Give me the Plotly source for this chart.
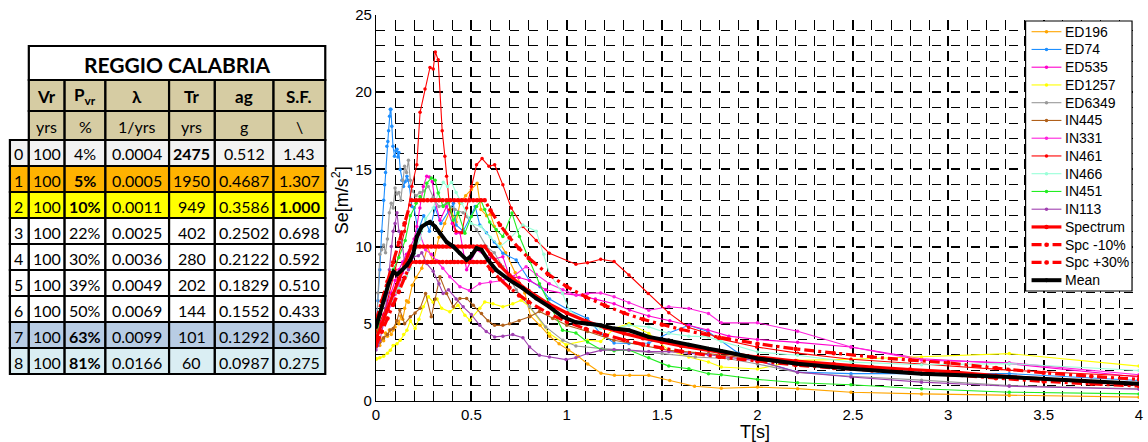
import plotly.graph_objects as go

# ---------------- data: table ----------------
tbl_title = "REGGIO CALABRIA"
tbl_head = ["Vr", "P<sub>vr</sub>", "λ", "Tr", "ag", "S.F."]
tbl_units = ["yrs", "%", "1/yrs", "yrs", "g", "\\"]
tbl_idx = ["0", "1", "2", "3", "4", "5", "6", "7", "8"]
tbl_vr = ["100", "100", "100", "100", "100", "100", "100", "100", "100"]
tbl_pvr = ["4%", "5%", "10%", "22%", "30%", "39%", "50%", "63%", "81%"]
tbl_lam = ["0.0004", "0.0005", "0.0011", "0.0025", "0.0036", "0.0049", "0.0069", "0.0099", "0.0166"]
tbl_tr = ["2475", "1950", "949", "402", "280", "202", "144", "101", "60"]
tbl_ag = ["0.512", "0.4687", "0.3586", "0.2502", "0.2122", "0.1829", "0.1552", "0.1292", "0.0987"]
tbl_sf = ["1.43", "1.307", "1.000", "0.698", "0.592", "0.510", "0.433", "0.360", "0.275"]
tbl_bold = [(0, 3), (1, 1), (2, 1), (2, 5), (7, 1), (8, 1)]

# ---------------- data: spectra ----------------
T_ED196 = [0, 0.01, 0.02, 0.03, 0.04, 0.05, 0.06, 0.07, 0.08, 0.09, 0.10, 0.11, 0.12, 0.13, 0.14, 0.15, 0.16, 0.17, 0.19, 0.21, 0.24, 0.27, 0.30, 0.33, 0.36, 0.39, 0.42, 0.44, 0.47, 0.50, 0.53, 0.55, 0.58, 0.60, 0.62, 0.65, 0.68, 0.73, 0.78, 0.81, 0.86, 0.91, 0.96, 1.01, 1.06, 1.11, 1.18, 1.25, 1.33, 1.43, 1.54, 1.67, 1.81, 2.0, 2.21, 2.49, 2.86, 3.32, 4.0]
S_ED196 = [3.5, 3.9, 3.6, 4.0, 3.9, 4.4, 4.2, 4.6, 4.3, 4.6, 4.8, 5.2, 5.0, 5.5, 5.3, 6.0, 6.5, 6.4, 7.5, 8.0, 8.6, 10.0, 9.0, 10.6, 11.5, 12.4, 11.6, 12.8, 13.3, 13.7, 14.1, 12.4, 12.0, 12.1, 11.3, 10.2, 9.6, 8.3, 7.0, 5.5, 4.9, 4.2, 3.7, 3.3, 2.9, 2.4, 1.8, 1.66, 1.66, 1.66, 1.33, 0.96, 0.83, 0.9, 0.8, 0.57, 0.46, 0.36, 0.25]

T_ED74 = [0, 0.01, 0.02, 0.03, 0.04, 0.045, 0.05, 0.057, 0.062, 0.066, 0.071, 0.075, 0.078, 0.083, 0.089, 0.097, 0.104, 0.11, 0.115, 0.12, 0.127, 0.136, 0.144, 0.153, 0.162, 0.168, 0.175, 0.188, 0.2, 0.22, 0.25, 0.28, 0.31, 0.34, 0.38, 0.406, 0.42, 0.457, 0.49, 0.52, 0.544, 0.579, 0.62, 0.665, 0.735, 0.805, 0.86, 0.91, 1.013, 1.109, 1.178, 1.248, 1.326, 1.43, 1.535, 1.64, 1.74, 1.9, 2.0, 2.21, 2.49, 2.86, 3.32, 4.0]
S_ED74 = [4.7, 6.5, 8.5, 11.0, 13.0, 14.0, 14.8, 16.5, 16.8, 17.5, 18.45, 18.9, 18.9, 17.8, 16.5, 15.85, 16.2, 16.3, 15.8, 16.1, 15.0, 14.3, 13.9, 14.2, 14.55, 14.3, 13.9, 12.6, 12.5, 11.0, 12.0, 11.0, 12.5, 11.5, 12.3, 12.8, 11.4, 11.0, 11.8, 12.6, 11.4, 10.9, 10.3, 9.57, 9.14, 7.8, 7.4, 6.6, 5.88, 5.34, 4.37, 3.76, 3.72, 3.76, 4.4, 4.9, 4.5, 3.1, 2.63, 1.87, 1.77, 1.77, 1.77, 1.33]

T_ED535 = [0, 0.02, 0.04, 0.06, 0.08, 0.1, 0.12, 0.14, 0.16, 0.18, 0.2, 0.214, 0.23, 0.248, 0.266, 0.28, 0.295, 0.309, 0.335, 0.37, 0.4, 0.42, 0.44, 0.475, 0.527, 0.579, 0.62, 0.665, 0.7, 0.75, 0.805, 0.89, 0.98, 1.05, 1.15, 1.248, 1.33, 1.43, 1.54, 1.64, 1.74, 1.85, 2.0, 2.21, 2.49, 2.86, 3.32, 4.0]
S_ED535 = [4.2, 5.0, 5.6, 6.3, 7.0, 7.8, 8.5, 9.0, 9.5, 10.0, 10.5, 11.3, 12.5, 13.9, 14.55, 14.5, 14.2, 13.0, 11.7, 12.6, 11.5, 10.87, 10.9, 8.5, 9.8, 9.35, 9.2, 9.35, 8.05, 8.0, 7.8, 7.2, 6.97, 6.86, 6.6, 6.3, 5.9, 5.5, 5.2, 4.9, 4.6, 4.2, 3.98, 3.8, 3.5, 2.74, 2.42, 1.55]

T_ED1257 = [0, 0.005, 0.02, 0.04, 0.06, 0.075, 0.09, 0.11, 0.127, 0.145, 0.162, 0.18, 0.205, 0.225, 0.248, 0.275, 0.3, 0.32, 0.344, 0.387, 0.43, 0.466, 0.492, 0.544, 0.57, 0.613, 0.665, 0.717, 0.761, 0.805, 0.909, 0.996, 1.109, 1.178, 1.248, 1.326, 1.43, 1.535, 1.64, 1.743, 1.81, 2.0, 2.21, 2.49, 2.86, 3.32, 4.0]
S_ED1257 = [2.7, 2.74, 2.8, 2.9, 3.1, 3.28, 3.6, 3.7, 3.93, 4.3, 4.58, 5.2, 4.7, 5.3, 6.1, 6.75, 6.4, 6.6, 6.0, 5.78, 6.2, 5.56, 5.23, 6.0, 6.42, 6.3, 6.1, 6.3, 6.53, 6.1, 4.37, 3.65, 3.93, 3.86, 4.69, 5.02, 4.37, 3.28, 2.85, 2.52, 2.2, 2.07, 2.63, 2.7, 2.85, 3.07, 2.26]

T_ED6349 = [0, 0.01, 0.02, 0.03, 0.04, 0.05, 0.06, 0.07, 0.08, 0.09, 0.1, 0.11, 0.12, 0.13, 0.14, 0.15, 0.16, 0.17, 0.18, 0.19, 0.21, 0.23, 0.25, 0.274, 0.3, 0.33, 0.37, 0.414, 0.457, 0.475, 0.527, 0.579, 0.62, 0.665, 0.735, 0.805, 0.89, 0.98, 1.048, 1.187, 1.326, 1.5, 1.674, 1.848, 2.0, 2.21, 2.49, 2.86, 3.32, 4.0]
S_ED6349 = [4.0, 7.0, 9.5, 9.8, 10.1, 9.6, 10.5, 12.2, 12.8, 12.5, 13.8, 13.4, 13.5, 13.0, 14.3, 15.2, 14.8, 15.6, 14.3, 13.6, 13.3, 13.5, 13.6, 13.9, 13.2, 12.6, 12.8, 12.4, 12.2, 11.95, 11.1, 10.0, 9.6, 8.7, 7.2, 6.1, 4.8, 3.93, 3.56, 3.39, 3.28, 3.07, 2.85, 2.74, 2.4, 1.85, 1.6, 1.35, 1.0, 0.79]

T_IN445 = [0, 0.02, 0.04, 0.06, 0.075, 0.09, 0.11, 0.125, 0.15, 0.18, 0.205, 0.231, 0.26, 0.29, 0.31, 0.335, 0.37, 0.405, 0.44, 0.475, 0.51, 0.553, 0.587, 0.622, 0.665, 0.7, 0.75, 0.805, 0.857, 0.926, 1.0, 1.109, 1.248, 1.4, 1.535, 1.743, 2.0, 2.21, 2.49, 2.86, 3.32, 4.0]
S_IN445 = [3.5, 3.8, 4.1, 4.3, 4.6, 4.7, 5.2, 5.9, 5.0, 5.45, 5.7, 6.0, 6.97, 5.45, 6.6, 8.05, 6.97, 6.1, 6.64, 6.64, 6.2, 5.67, 5.2, 4.9, 4.9, 5.0, 5.2, 5.45, 5.8, 5.34, 4.9, 4.5, 3.93, 3.6, 3.28, 3.07, 2.7, 2.4, 2.1, 1.8, 1.5, 1.1]

T_IN331 = [0, 0.02, 0.04, 0.06, 0.08, 0.1, 0.12, 0.14, 0.16, 0.18, 0.2, 0.23, 0.26, 0.29, 0.318, 0.35, 0.387, 0.44, 0.49, 0.544, 0.6, 0.665, 0.717, 0.787, 0.84, 0.909, 0.98, 1.048, 1.109, 1.178, 1.248, 1.326, 1.43, 1.535, 1.64, 1.743, 1.81, 2.0, 2.21, 2.49, 2.86, 3.32, 4.0]
S_IN331 = [4.4, 4.8, 5.3, 5.8, 6.2, 6.9, 7.5, 8.3, 8.8, 9.4, 9.9, 10.8, 9.8, 9.5, 9.1, 8.6, 8.05, 7.4, 7.15, 7.6, 7.7, 7.8, 8.05, 8.7, 8.2, 7.6, 7.2, 6.86, 6.97, 7.0, 6.75, 6.36, 5.88, 6.1, 5.99, 5.67, 5.06, 5.06, 4.52, 3.5, 2.65, 2.48, 1.7]

T_IN461 = [0, 0.05, 0.1, 0.15, 0.188, 0.214, 0.231, 0.257, 0.283, 0.30, 0.311, 0.326, 0.347, 0.361, 0.37, 0.387, 0.42, 0.45, 0.475, 0.50, 0.527, 0.556, 0.592, 0.622, 0.665, 0.709, 0.77, 0.84, 0.909, 1.048, 1.109, 1.178, 1.248, 1.326, 1.427, 1.535, 1.639, 1.743, 1.796, 1.995, 2.21, 2.49, 2.86, 3.32, 4.0]
S_IN461 = [4.5, 6.0, 8.5, 11.0, 13.9, 15.3, 18.7, 20.2, 21.6, 21.5, 22.6, 22.1, 17.5, 15.85, 14.55, 12.4, 11.0, 10.9, 12.5, 13.9, 15.3, 15.7, 15.2, 15.3, 14.0, 12.5, 11.3, 10.4, 9.57, 8.86, 8.96, 9.18, 9.03, 8.16, 6.97, 5.71, 4.76, 4.37, 4.04, 3.5, 3.1, 2.7, 2.4, 2.0, 1.6]

T_IN466 = [0, 0.02, 0.04, 0.06, 0.08, 0.1, 0.12, 0.14, 0.16, 0.18, 0.2, 0.23, 0.26, 0.3, 0.328, 0.353, 0.375, 0.396, 0.42, 0.45, 0.5, 0.55, 0.6, 0.65, 0.7, 0.77, 0.84, 0.88, 0.909, 0.978, 1.013, 1.109, 1.178, 1.248, 1.326, 1.43, 1.535, 1.64, 1.743, 1.81, 2.0, 2.21, 2.49, 2.86, 3.32, 4.0]
S_IN466 = [4.0, 4.6, 5.3, 5.9, 6.5, 7.0, 7.3, 7.8, 8.1, 8.6, 9.5, 10.5, 11.8, 12.5, 13.5, 14.16, 13.9, 14.16, 13.5, 12.8, 11.5, 11.3, 10.6, 10.0, 10.5, 11.4, 11.0, 9.5, 8.27, 6.97, 5.88, 5.02, 4.69, 4.69, 4.9, 4.8, 4.37, 4.2, 4.15, 3.86, 3.17, 2.96, 2.52, 2.35, 2.42, 1.98]

T_IN451 = [0, 0.03, 0.06, 0.09, 0.12, 0.153, 0.18, 0.21, 0.231, 0.248, 0.266, 0.29, 0.31, 0.326, 0.352, 0.38, 0.405, 0.43, 0.466, 0.5, 0.527, 0.55, 0.57, 0.596, 0.63, 0.665, 0.713, 0.752, 0.805, 0.857, 0.909, 0.978, 1.048, 1.109, 1.178, 1.248, 1.326, 1.43, 1.535, 1.64, 1.743, 1.81, 2.0, 2.21, 2.49, 2.86, 3.32, 4.0]
S_IN451 = [4.0, 6.0, 7.5, 8.5, 9.3, 10.4, 12.0, 12.8, 13.25, 13.0, 14.1, 14.45, 14.3, 13.47, 12.6, 12.9, 11.7, 12.2, 10.87, 11.95, 12.6, 13.0, 12.4, 11.6, 11.1, 10.65, 12.17, 10.65, 9.1, 7.6, 6.3, 4.58, 4.4, 3.82, 3.33, 3.26, 3.3, 2.8, 2.26, 2.09, 1.77, 1.7, 1.4, 1.18, 1.05, 0.79, 0.57, 0.46]

T_IN113 = [0, 0.01, 0.02, 0.03, 0.04, 0.05, 0.06, 0.07, 0.08, 0.09, 0.1, 0.11, 0.12, 0.13, 0.15, 0.17, 0.196, 0.222, 0.24, 0.266, 0.3, 0.33, 0.352, 0.38, 0.42, 0.457, 0.5, 0.544, 0.578, 0.622, 0.665, 0.717, 0.77, 0.805, 0.857, 0.909, 0.996, 1.048, 1.109, 1.178, 1.248, 1.326, 1.43, 1.535, 1.64, 1.743, 2.0, 2.21, 2.49, 2.86, 3.32, 4.0]
S_IN113 = [3.3, 3.6, 3.9, 4.5, 5.0, 6.0, 7.0, 8.5, 10.0, 11.0, 11.5, 12.2, 11.0, 10.8, 9.0, 8.5, 9.35, 9.4, 9.6, 8.9, 8.4, 7.6, 6.97, 7.2, 6.6, 6.1, 5.6, 4.9, 4.5, 4.15, 4.2, 4.3, 4.1, 3.5, 2.96, 2.85, 2.68, 2.8, 3.07, 3.28, 3.33, 3.3, 3.2, 3.2, 3.1, 3.0, 2.6, 1.87, 1.55, 1.22, 0.96, 0.76]

T_spec = [0, 0.03, 0.06, 0.09, 0.12, 0.15, 0.185, 0.21, 0.23, 0.25, 0.27, 0.29, 0.31, 0.33, 0.35, 0.37, 0.39, 0.41, 0.43, 0.45, 0.47, 0.49, 0.51, 0.53, 0.55, 0.57, 0.6, 0.65, 0.7, 0.75, 0.8, 0.9, 1.0, 1.1, 1.2, 1.3, 1.4, 1.5, 1.6, 1.8, 2.0, 2.2, 2.4, 2.6, 2.8, 3.0, 3.25, 3.5, 3.75, 4.0]
S_spec = [4.0, 4.97, 5.95, 6.92, 7.89, 8.86, 10.0, 10.0, 10.0, 10.0, 10.0, 10.0, 10.0, 10.0, 10.0, 10.0, 10.0, 10.0, 10.0, 10.0, 10.0, 10.0, 10.0, 10.0, 10.0, 10.0, 9.5, 8.77, 8.14, 7.6, 7.13, 6.33, 5.7, 5.18, 4.75, 4.38, 4.07, 3.8, 3.56, 3.17, 2.85, 2.59, 2.38, 2.19, 2.04, 1.9, 1.64, 1.41, 1.23, 1.08]
S_spc_m10 = [3.6, 4.48, 5.35, 6.23, 7.1, 7.98, 9.0, 9.0, 9.0, 9.0, 9.0, 9.0, 9.0, 9.0, 9.0, 9.0, 9.0, 9.0, 9.0, 9.0, 9.0, 9.0, 9.0, 9.0, 9.0, 9.0, 8.55, 7.89, 7.33, 6.84, 6.41, 5.7, 5.13, 4.66, 4.28, 3.95, 3.66, 3.42, 3.21, 2.85, 2.57, 2.33, 2.14, 1.97, 1.83, 1.71, 1.47, 1.27, 1.11, 0.97]
S_spc_p30 = [5.2, 6.46, 7.73, 8.99, 10.26, 11.52, 13.0, 13.0, 13.0, 13.0, 13.0, 13.0, 13.0, 13.0, 13.0, 13.0, 13.0, 13.0, 13.0, 13.0, 13.0, 13.0, 13.0, 13.0, 13.0, 13.0, 12.35, 11.4, 10.59, 9.88, 9.26, 8.23, 7.41, 6.74, 6.18, 5.7, 5.29, 4.94, 4.63, 4.12, 3.71, 3.37, 3.09, 2.85, 2.65, 2.47, 2.13, 1.83, 1.6, 1.4]

T_mean = [0, 0.02, 0.04, 0.066, 0.092, 0.11, 0.136, 0.162, 0.18, 0.196, 0.214, 0.24, 0.266, 0.283, 0.31, 0.335, 0.37, 0.405, 0.44, 0.475, 0.5, 0.527, 0.553, 0.587, 0.63, 0.7, 0.77, 0.84, 0.909, 0.978, 1.048, 1.109, 1.178, 1.248, 1.326, 1.43, 1.535, 1.64, 1.743, 1.81, 2.0, 2.21, 2.49, 2.86, 3.32, 4.0]
S_mean = [4.8, 5.6, 6.5, 7.6, 8.37, 8.2, 8.48, 8.8, 9.14, 9.57, 10.65, 11.3, 11.5, 11.6, 11.3, 10.87, 10.3, 10.0, 9.57, 9.14, 9.4, 9.9, 9.79, 9.14, 8.48, 7.83, 7.3, 6.64, 6.1, 5.45, 5.1, 5.0, 4.9, 4.69, 4.58, 4.15, 3.93, 3.65, 3.39, 3.24, 2.75, 2.42, 2.09, 1.77, 1.55, 1.12]

W, H = 1148, 442
L, R, TOP, B = 376, 5, 15, 41
PW = W - L - R
PH = H - TOP - B

DASHDOT = "10px,4px,3px,4px"
# (name, x, y, colour, line width, dash, marker size)
series = [
    ("ED196", T_ED196, S_ED196, "#FFA500", 1.1, "solid", 3.5),
    ("ED74", T_ED74, S_ED74, "#1E8FFF", 1.1, "solid", 3.5),
    ("ED535", T_ED535, S_ED535, "#FF00CC", 1.1, "solid", 3.5),
    ("ED1257", T_ED1257, S_ED1257, "#FFFF00", 1.1, "solid", 3.5),
    ("ED6349", T_ED6349, S_ED6349, "#999999", 1.1, "solid", 3.5),
    ("IN445", T_IN445, S_IN445, "#B0601A", 1.1, "solid", 3.5),
    ("IN331", T_IN331, S_IN331, "#FF22DD", 1.1, "solid", 3.5),
    ("IN461", T_IN461, S_IN461, "#FF0000", 1.1, "solid", 3.5),
    ("IN466", T_IN466, S_IN466, "#99FFD8", 1.1, "solid", 3.5),
    ("IN451", T_IN451, S_IN451, "#22EE22", 1.1, "solid", 3.5),
    ("IN113", T_IN113, S_IN113, "#A040B0", 1.1, "solid", 3.5),
    ("Spectrum", T_spec, S_spec, "#FF0000", 3.2, "solid", 4.5),
    ("Spc -10%", T_spec, S_spc_m10, "#FF0000", 3.2, DASHDOT, 4.5),
    ("Spc +30%", T_spec, S_spc_p30, "#FF0000", 3.2, DASHDOT, 4.5),
    ("Mean", T_mean, S_mean, "#000000", 4.0, "solid", 4.0),
]

fig = go.Figure()
for name, t, s, c, w, d, ms in series:
    fig.add_trace(go.Scatter(x=t, y=s, name=name, mode="lines+markers",
                             line=dict(color=c, width=w, dash=d),
                             marker=dict(color=c, size=ms), showlegend=False))

yspacing = PH / 25.0
xspacing = PW / 40.0

fig.update_xaxes(range=[0, 4], dtick=0.5, tick0=0, showline=True, linecolor="black", linewidth=1.2,
                 showgrid=True, gridcolor="black", gridwidth=2,
                 griddash="0px,%.2fpx,10px,0px" % (yspacing - 10),
                 minor=dict(dtick=0.1, showgrid=True, gridcolor="#000000", gridwidth=1.3,
                            griddash="0px,%.2fpx,10px,0px" % (yspacing - 10)),
                 zeroline=False, ticks="", tickfont=dict(family="Liberation Sans", size=15, color="black"))
fig.update_yaxes(range=[0, 25], dtick=5, tick0=0, showline=True, linecolor="black", linewidth=1.2,
                 showgrid=True, gridcolor="black", gridwidth=2,
                 griddash="9px,%.2fpx" % (xspacing - 9),
                 minor=dict(dtick=1, showgrid=True, gridcolor="#000000", gridwidth=1.3,
                            griddash="9px,%.2fpx" % (xspacing - 9)),
                 zeroline=False, ticks="", tickfont=dict(family="Liberation Sans", size=15, color="black"))


def px2x(px):
    return (px - L) / PW


def py2y(py):
    return (TOP + PH - py) / PH


shapes = []
annotations = []

annotations.append(dict(x=px2x(757), y=py2y(432), xref="paper", yref="paper", text="T[s]",
                        showarrow=False, xanchor="center", yanchor="middle",
                        font=dict(family="Liberation Sans", size=18, color="black")))
annotations.append(dict(x=px2x(340), y=py2y(200), xref="paper", yref="paper",
                        text="Se[m/s<sup>2</sup>]", textangle=-90,
                        showarrow=False, xanchor="center", yanchor="middle",
                        font=dict(family="Liberation Sans", size=18, color="black")))

# ---------------- legend (drawn by hand to match the spacing) ----------------
LEG_X0, LEG_X1, LEG_Y0, LEG_Y1 = 1029, 1136, 21, 291
shapes.append(dict(type="rect", xref="paper", yref="paper",
                   x0=px2x(LEG_X0), x1=px2x(LEG_X1), y0=py2y(LEG_Y1), y1=py2y(LEG_Y0),
                   fillcolor="white", line=dict(color="black", width=1.2), layer="above"))
first_y, step = 31.7, 17.75
for k, (name, t, s, c, w, d, ms) in enumerate(series):
    yy = first_y + k * step
    shapes.append(dict(type="line", xref="paper", yref="paper",
                       x0=px2x(1035), x1=px2x(1065), y0=py2y(yy), y1=py2y(yy),
                       line=dict(color=c, width=w, dash=d), layer="above"))
    r = ms / 2.0
    shapes.append(dict(type="circle", xref="paper", yref="paper",
                       x0=px2x(1050 - r), x1=px2x(1050 + r), y0=py2y(yy + r), y1=py2y(yy - r),
                       fillcolor=c, line=dict(color=c, width=0), layer="above"))
    annotations.append(dict(x=px2x(1067), y=py2y(yy), xref="paper", yref="paper", text=name,
                            showarrow=False, xanchor="left", yanchor="middle",
                            font=dict(family="Liberation Sans", size=14, color="black")))

# ---------------- table ----------------
col_x = [8, 27, 63, 104, 168, 214, 273, 325]
title_y = [46, 80]
head_y = [80, 111]
unit_y = [111, 140]
row_y = [140, 166, 192, 218, 244, 270, 296, 322, 348, 374]
row_fill = ["#F2F2F2", "#FFB300", "#FFFF00", "#FFFFFF", "#FFFFFF", "#FFFFFF", "#FFFFFF", "#B8CCE4", "#DAEEF3"]
head_fill = "#D6CCA3"
TFONT = "Lato"


def rect(x0, x1, y0, y1, fill):
    shapes.append(dict(type="rect", xref="paper", yref="paper",
                       x0=px2x(x0), x1=px2x(x1), y0=py2y(y1), y1=py2y(y0),
                       fillcolor=fill, line=dict(color="black", width=2.2), layer="above"))


def text(xc, yc, s, size=16, bold=False, anchor="center"):
    annotations.append(dict(x=px2x(xc), y=py2y(yc), xref="paper", yref="paper",
                            text=("<b>%s</b>" % s) if bold else s, showarrow=False,
                            xanchor=anchor, yanchor="middle",
                            font=dict(family=TFONT, size=size, color="black")))


rect(col_x[1], col_x[-1], title_y[0], title_y[1], "#FFFFFF")
text((col_x[1] + col_x[-1]) / 2, (title_y[0] + title_y[1]) / 2 + 1, tbl_title, size=21, bold=True)
for j in range(6):
    rect(col_x[j + 1], col_x[j + 2], head_y[0], head_y[1], head_fill)
    rect(col_x[j + 1], col_x[j + 2], unit_y[0], unit_y[1], head_fill)
    cx = (col_x[j + 1] + col_x[j + 2]) / 2
    text(cx, (head_y[0] + head_y[1]) / 2 + 1, tbl_head[j], size=17, bold=True)
    text(cx, (unit_y[0] + unit_y[1]) / 2 + 1, tbl_units[j], size=16)

cols = [tbl_vr, tbl_pvr, tbl_lam, tbl_tr, tbl_ag, tbl_sf]
for i in range(9):
    y0, y1 = row_y[i], row_y[i + 1]
    yc = (y0 + y1) / 2 + 1
    rect(col_x[0], col_x[1], y0, y1, row_fill[i])
    text(col_x[0] + 2, yc, tbl_idx[i], size=16, anchor="left")
    for j in range(6):
        rect(col_x[j + 1], col_x[j + 2], y0, y1, row_fill[i])
        text((col_x[j + 1] + col_x[j + 2]) / 2, yc, cols[j][i], size=16, bold=(i, j) in tbl_bold)

fig.update_layout(
    width=W, height=H,
    margin=dict(l=L, r=R, t=TOP, b=B),
    paper_bgcolor="white", plot_bgcolor="white",
    showlegend=False,
    shapes=shapes, annotations=annotations,
)

fig.write_html("out.html")
